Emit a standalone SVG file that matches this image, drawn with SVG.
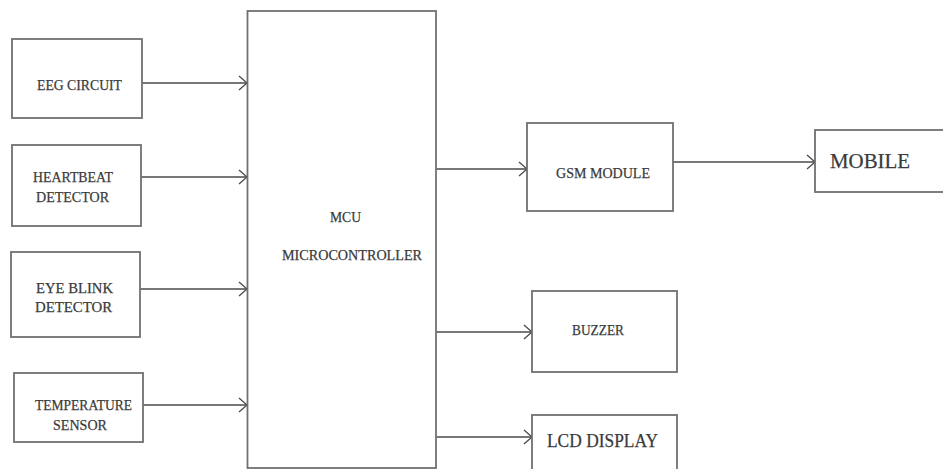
<svg xmlns="http://www.w3.org/2000/svg" width="943" height="469" viewBox="0 0 943 469">
<style>
.box{fill:#fff;stroke:#707070;stroke-width:1.8}
.t{font-family:"Liberation Serif","Times New Roman",serif;fill:#3a3a3a;stroke:#3a3a3a;stroke-width:0.25}
.s{font-size:15.5px}
.c{fill:none;stroke:#4a4a4a;stroke-width:1.5}
.ah{fill:none;stroke:#4a4a4a;stroke-width:1.3}
</style>
<defs>
<marker id="arr" markerUnits="userSpaceOnUse" markerWidth="12" markerHeight="16" refX="9" refY="8" orient="auto">
<path class="ah" d="M1,1 L9,8 L1,15"/>
</marker>
</defs>
<rect width="943" height="469" fill="#fff"/>
<g id="connectors">
<line class="c" x1="142" y1="83" x2="247" y2="83" marker-end="url(#arr)"/>
<line class="c" x1="141" y1="177" x2="247" y2="177" marker-end="url(#arr)"/>
<line class="c" x1="140" y1="289" x2="247" y2="289" marker-end="url(#arr)"/>
<line class="c" x1="143" y1="405" x2="247" y2="405" marker-end="url(#arr)"/>
<line class="c" x1="436" y1="169" x2="527" y2="169" marker-end="url(#arr)"/>
<line class="c" x1="436" y1="332" x2="532" y2="332" marker-end="url(#arr)"/>
<line class="c" x1="436" y1="437" x2="532" y2="437" marker-end="url(#arr)"/>
<line class="c" x1="673" y1="162" x2="815" y2="162" marker-end="url(#arr)"/>
</g>
<g id="eeg">
<rect class="box" x="12" y="39" width="130" height="79"/>
<text class="t s" x="37" y="90" textLength="85" lengthAdjust="spacingAndGlyphs">EEG CIRCUIT</text>
</g>
<g id="heartbeat">
<rect class="box" x="12" y="145" width="129" height="81"/>
<text class="t s" x="33" y="182" textLength="80" lengthAdjust="spacingAndGlyphs">HEARTBEAT</text>
<text class="t s" x="36" y="202" textLength="73" lengthAdjust="spacingAndGlyphs">DETECTOR</text>
</g>
<g id="eyeblink">
<rect class="box" x="11" y="252" width="129" height="85"/>
<text class="t s" x="36" y="293" textLength="77" lengthAdjust="spacingAndGlyphs">EYE BLINK</text>
<text class="t s" x="35" y="312" textLength="77" lengthAdjust="spacingAndGlyphs">DETECTOR</text>
</g>
<g id="temperature">
<rect class="box" x="14" y="373" width="129" height="69"/>
<text class="t s" x="35" y="410" textLength="97" lengthAdjust="spacingAndGlyphs">TEMPERATURE</text>
<text class="t s" x="53" y="430" textLength="54" lengthAdjust="spacingAndGlyphs">SENSOR</text>
</g>
<g id="mcu">
<rect class="box" x="247.5" y="11" width="188.5" height="457"/>
<text class="t s" x="330" y="222" textLength="31" lengthAdjust="spacingAndGlyphs">MCU</text>
<text class="t s" x="282" y="260" textLength="140" lengthAdjust="spacingAndGlyphs">MICROCONTROLLER</text>
</g>
<g id="gsm">
<rect class="box" x="527" y="123" width="146" height="88"/>
<text class="t s" x="556" y="178" textLength="94" lengthAdjust="spacingAndGlyphs">GSM MODULE</text>
</g>
<g id="mobile">
<rect class="box" x="815" y="130" width="140" height="62"/>
<text class="t" style="font-size:22px" x="830" y="168" textLength="80" lengthAdjust="spacingAndGlyphs">MOBILE</text>
</g>
<g id="buzzer">
<rect class="box" x="532" y="291" width="145" height="81"/>
<text class="t s" x="572" y="335" textLength="52" lengthAdjust="spacingAndGlyphs">BUZZER</text>
</g>
<g id="lcd">
<rect class="box" x="532" y="415" width="145" height="70"/>
<text class="t" style="font-size:19px" x="547" y="447" textLength="111" lengthAdjust="spacingAndGlyphs">LCD DISPLAY</text>
</g>
</svg>
